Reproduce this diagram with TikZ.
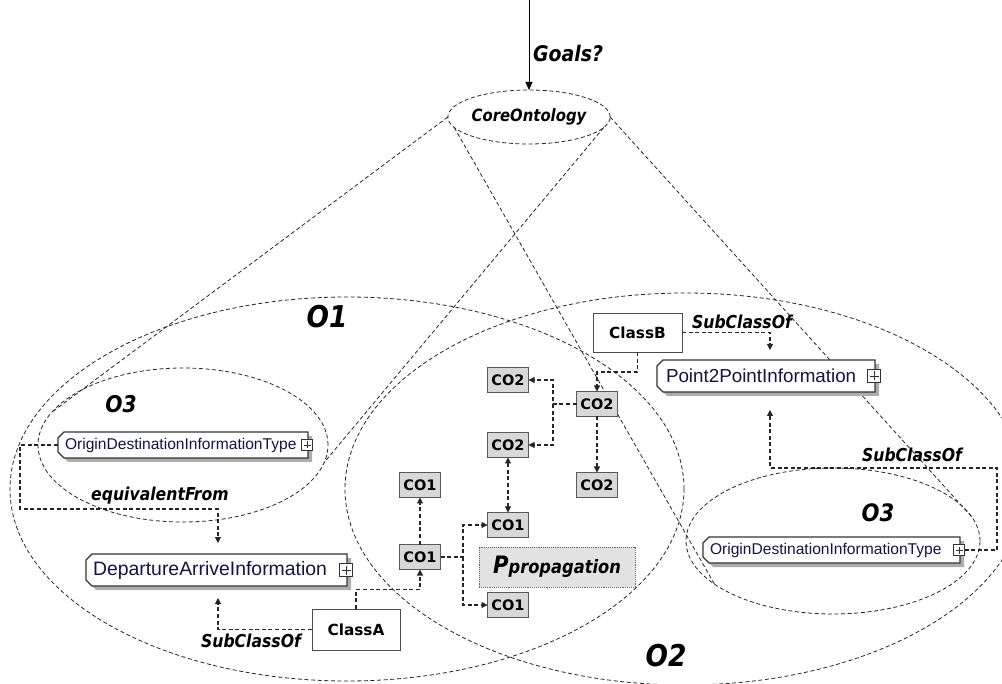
\documentclass[tikz,border=0pt]{standalone}
\usepackage{fontspec}
\setmainfont{DejaVu Sans}
\newfontfamily\labfont[FakeStretch=0.88]{DejaVu Sans}
\newfontfamily\elemfont{Liberation Sans}
\usetikzlibrary{shapes.geometric,arrows.meta}

\definecolor{elemtext}{RGB}{20,20,65}
\definecolor{cofill}{RGB}{216,216,216}
\definecolor{propfill}{RGB}{226,226,226}

\tikzset{
  every node/.style={outer sep=0pt},
  tip/.style={-{Triangle[length=6pt,width=6pt]}},
  setline/.style={draw=black!85, line width=0.8pt, dash pattern=on 4pt off 2.6pt},
  setell/.style={setline, ellipse, inner sep=0pt},
  conn/.style={draw=black!85, line width=1.05pt, dash pattern=on 4pt off 2.6pt, tip},
  conntwo/.style={conn, {Triangle[length=6pt,width=6pt]}-{Triangle[length=6pt,width=6pt]}},
  lab/.style={font=\labfont\bfseries\itshape\fontsize{17.8}{20}\selectfont, inner sep=0pt},
  setname/.style={font=\labfont\bfseries\itshape\fontsize{#1}{#1}\selectfont, inner sep=0pt},
  cobox/.style={draw=black!65, fill=cofill, line width=1pt, minimum width=41pt,
    minimum height=25pt, inner sep=0pt, font=\bfseries\fontsize{14.5}{15}\selectfont},
  classbox/.style={draw=black!70, fill=white, line width=0.9pt, inner sep=0pt,
    font=\bfseries\fontsize{15.3}{16}\selectfont},
  elem/.style={rectangle, inner sep=0pt},
  elemframe/.style={draw=black!80, line width=1.2pt, fill=white, line join=miter},
  elemshadow/.style={fill=black!32, transform canvas={xshift=4pt, yshift=-4pt}},
  elemtxt/.style={font=\elemfont\fontsize{#1}{#1}\selectfont, text=elemtext, inner sep=0pt, anchor=west},
  plusbox/.style={draw=black!80, fill=white, line width=0.8pt, minimum size=11pt, inner sep=0pt,
    path picture={\draw[line width=0.8pt]
      ([xshift=2pt]path picture bounding box.west) -- ([xshift=-2pt]path picture bounding box.east)
      ([yshift=-2pt]path picture bounding box.north) -- ([yshift=2pt]path picture bounding box.south);}},
}

% outline of a schema element: left corners cut, drop shadow to the lower right
\newcommand\elemoutline[2][elemframe]{%
  \path[#1] ([xshift=6pt]#2.north west) -- (#2.north east) -- (#2.south east)
    -- ([xshift=6pt]#2.south west) -- ([yshift=6pt]#2.south west)
    -- ([yshift=-6pt]#2.north west) -- cycle;}
\newcommand\elemdraw[1]{\elemoutline[elemshadow]{#1}\elemoutline{#1}}

\begin{document}
\begin{tikzpicture}[x=1pt,y=-1pt]
\useasboundingbox (0,0) rectangle (1002,684);

% ontology sets
\node[setell, minimum width=674pt, minimum height=384pt] (O1) at (347,489) {};
\node[setell, minimum width=680pt, minimum height=392pt] (O2) at (685,489) {};
\node[setell, minimum width=290pt, minimum height=154pt] (O3a) at (183,445) {};
\node[setell, minimum width=294pt, minimum height=146pt] (O3b) at (833,541) {};
\node[setell, minimum width=162pt, minimum height=54pt,
      font=\labfont\bfseries\itshape\fontsize{16.9}{18}\selectfont] (core) at (529,117) {CoreOntology};

% goals arrow
\coordinate (goaltop) at (529,0);
\draw[line width=1pt, -{Triangle[length=8pt,width=7pt]}] (goaltop) -- (core.north);
\node[setname=21.5, anchor=west] (goals) at (533,53) {Goals?};

% projection lines from the core ontology
\draw[setline] (core.180) -- (O3a.166);
\draw[setline] (core.352) -- (O3a.353);
\draw[setline] (core.188) -- (O3b.200);
\draw[setline] (core.0) -- (O3b.10);

% set names
\node[setname=30] (n1) at (327,317) {O1};
\node[setname=30] (n2) at (666,656) {O2};
\node[setname=23] (n3a) at (121,404) {O3};
\node[setname=24] (n3b) at (878,513) {O3};

% schema elements
\node[elem, minimum width=250pt, minimum height=26pt] (odA) at (183,445) {};
\elemdraw{odA}
\node[elemtxt=15.6] (odAt) at ([xshift=7pt]odA.west) {OriginDestinationInformationType};
\node[plusbox] (odAp) at ([xshift=-1pt]odA.east) {};

\node[elem, minimum width=257pt, minimum height=26pt] (odB) at (831.5,550) {};
\elemdraw{odB}
\node[elemtxt=15.6] (odBt) at ([xshift=7pt]odB.west) {OriginDestinationInformationType};
\node[plusbox] (odBp) at ([xshift=-1pt]odB.east) {};

\node[elem, minimum width=261pt, minimum height=32pt] (dep) at (216.5,570) {};
\elemdraw{dep}
\node[elemtxt=19.4] (dept) at ([xshift=7pt]dep.west) {DepartureArriveInformation};
\node[plusbox, minimum size=13pt] (depp) at ([xshift=-1pt]dep.east) {};

\node[elem, minimum width=218pt, minimum height=32pt] (p2p) at (766,376) {};
\elemdraw{p2p}
\node[elemtxt=18.8] (p2pt) at ([xshift=9pt]p2p.west) {Point2PointInformation};
\node[plusbox, minimum size=13pt] (p2pp) at ([xshift=-1pt]p2p.east) {};

% classes
\node[classbox, minimum width=88pt, minimum height=41pt] (clA) at (356,629.5) {ClassA};
\node[classbox, minimum width=89pt, minimum height=39pt] (clB) at (637.5,332.5) {ClassB};

% concept boxes
\node[cobox] (co2a) at (508,380) {CO2};
\node[cobox] (co2c) at (597,404) {CO2};
\node[cobox] (co2b) at (508,445) {CO2};
\node[cobox] (co2d) at (597,485) {CO2};
\node[cobox] (co1t) at (420,485) {CO1};
\node[cobox] (co1m) at (508,525) {CO1};
\node[cobox] (co1l) at (420,557) {CO1};
\node[cobox] (co1b) at (508,605) {CO1};
\node[draw=black!60, densely dotted, line width=0.9pt, fill=propfill,
      minimum width=156pt, minimum height=40pt, inner sep=0pt] (prop) at (557,567)
  {\labfont\bfseries\itshape{\fontsize{24}{24}\selectfont P}{\fontsize{18.5}{19}\selectfont propagation}};

% relations between elements
\draw[conn, shorten >=11pt] (odA.west) -- (20,445) -- (20,509) -| ([xshift=1.5pt]dep.north);
\node[lab] (eqv) at (160,496) {equivalentFrom};
\draw[conn, shorten >=12pt] (clA.west) -| ([xshift=1.5pt]dep.south);
\node[lab] (subA) at (251,641) {SubClassOf};
\draw[conn] (clA.north) -- ++(0,-19.5) -| (co1l.south);
\draw[conn] (co1l.north) -- (co1t.south);
\coordinate (j1) at (463,557);
\draw[conn] (co1l.east) -- (j1) |- (co1m.west);
\draw[conn] (j1) |- (co1b.west);
\draw[conntwo] (co2b.south) -- (co1m.north);
\coordinate (j2) at (553,404);
\draw[conn] (co2c.west) -- (j2) |- (co2a.east);
\draw[conn] (j2) |- (co2b.east);
\draw[conn] (co2c.south) -- (co2d.north);
\draw[conn] (clB.south) -- ++(0,20) -| (co2c.north);
\draw[conn, shorten >=10pt] (clB.east) -| ([xshift=4pt]p2p.north);
\node[lab] (subB) at (742,322) {SubClassOf};
\draw[conn, shorten >=18pt] (odBp.east) -- (997,550) -- (997,468) -| ([xshift=4pt]p2p.south);
\node[lab] (subC) at (912,455) {SubClassOf};
\end{tikzpicture}
\end{document}
